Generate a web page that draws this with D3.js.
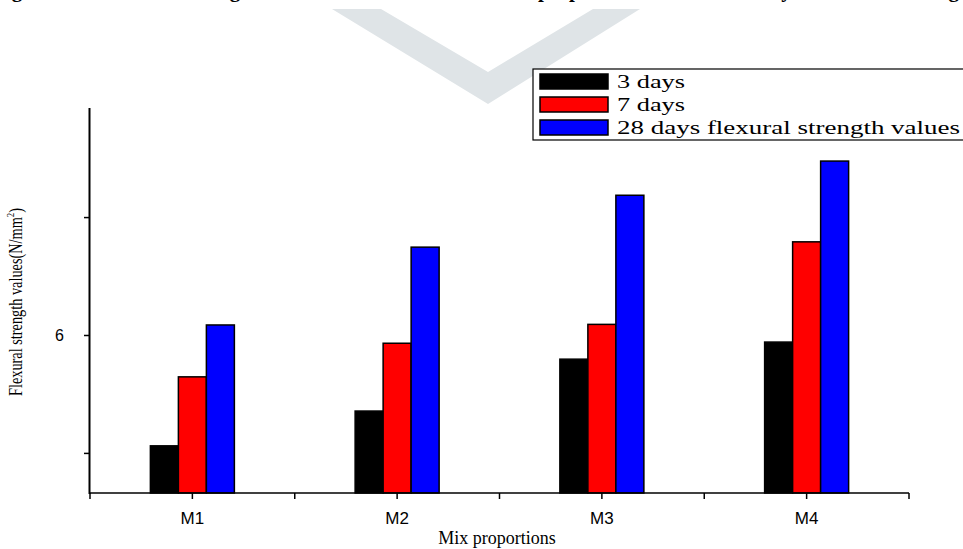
<!DOCTYPE html>
<html>
<head>
<meta charset="utf-8">
<script src="https://cdn.jsdelivr.net/npm/d3@7"></script>
<style>
  html, body { margin: 0; padding: 0; background: #fff; overflow: hidden; }
  svg { display: block; }
</style>
</head>
<body>
<svg id="chart" width="963" height="549"></svg>
<script>
// ---- data ----
const categories = ["M1", "M2", "M3", "M4"];
const seriesNames = ["3 days", "7 days", "28 days flexural strength values"];
const days3 = [4.12, 4.71, 5.59, 5.88];
const days7 = [5.29, 5.86, 6.18, 7.58];
const days28 = [6.17, 7.49, 8.37, 8.95];
const yTicks = [4, 6, 8];
const yTickLabels = ["", "6", ""];
const colors = ["#000000", "#ff0000", "#0000ff"];

const svg = d3.select("#chart");

// watermark chevron (decoration)
svg.append("path")
  .attr("d", "M332,9 L488,104 L640,9 L593,9 L488,72 L381,9 Z")
  .attr("fill", "#dfe4e7");

// title (cut off at top of the picture, only descenders visible)
const titleWords = [
  { t: "Figure 6: Flexural", x: -7, a: "start" },
  { t: "strength", x: 259, a: "end" },
  { t: "values for various mix", x: 268, a: "start" },
  { t: "proportions", x: 538, a: "start" },
  { t: "at 28", x: 700, a: "start" },
  { t: "days", x: 759, a: "start" },
  { t: "of", x: 815, a: "start" },
  { t: "curing", x: 959, a: "end" }
];
svg.selectAll("text.title").data(titleWords).enter().append("text")
  .attr("class", "title")
  .attr("x", d => d.x).attr("y", -3)
  .attr("text-anchor", d => d.a)
  .attr("font-family", "Liberation Serif")
  .attr("font-weight", "bold")
  .attr("font-size", 21)
  .text(d => d.t);

// scales
const x0 = d3.scaleBand().domain(categories).range([90, 909]).padding(0);
const x1 = d3.scaleBand().domain(d3.range(3)).range([0, 84]);
const y = d3.scaleLinear().domain([3.32, 9.85]).range([493, 108]);

const rows = categories.map((c, i) => ({ c, v: [days3[i], days7[i], days28[i]] }));

// bars
const g = svg.append("g");
rows.forEach(r => {
  r.v.forEach((v, k) => {
    g.append("rect")
      .attr("x", x0(r.c) + x0.bandwidth() / 2 - 42 + x1(k))
      .attr("y", y(v))
      .attr("width", x1.bandwidth())
      .attr("height", y(3.32) - y(v))
      .attr("fill", colors[k])
      .attr("stroke", "#000")
      .attr("stroke-width", 1.5);
  });
});

// y axis
const yAxis = d3.axisLeft(y).tickValues(yTicks)
  .tickFormat((d, i) => yTickLabels[i]).tickSize(6).tickPadding(20);
const ga = svg.append("g").attr("transform", "translate(90,0)").call(yAxis);
ga.select(".domain").attr("stroke-width", 2).attr("d", "M-0.5,108V494");
ga.selectAll(".tick line").attr("stroke-width", 1.5);
ga.selectAll(".tick text").attr("font-family", "Liberation Sans").attr("font-size", 16).attr("fill", "#000");

// x axis
const xAxis = d3.axisBottom(x0).tickSize(6).tickPadding(13);
const gx = svg.append("g").attr("transform", "translate(0,493)").call(xAxis);
gx.select(".domain").attr("stroke-width", 1.5).attr("d", "M89,0H909");
gx.selectAll(".tick line").attr("stroke-width", 1.5);
gx.selectAll(".tick text").attr("font-family", "Liberation Sans").attr("font-size", 17).attr("fill", "#000");
// boundary ticks between categories
const bounds = categories.map(c => x0(c)).concat([x0.range()[1]]);
gx.selectAll("line.b").data(bounds).enter().append("line")
  .attr("x1", d => d).attr("x2", d => d).attr("y1", 0).attr("y2", 6)
  .attr("stroke", "#000").attr("stroke-width", 1.5);

// axis titles
svg.append("text")
  .attr("x", 497).attr("y", 544)
  .attr("text-anchor", "middle")
  .attr("font-family", "Liberation Serif")
  .attr("font-size", 18)
  .text("Mix proportions");

const yl = svg.append("text")
  .attr("transform", "translate(22,302) rotate(-90)")
  .attr("text-anchor", "middle")
  .attr("font-family", "Liberation Serif")
  .attr("font-size", 18)
  .attr("textLength", 188)
  .attr("lengthAdjust", "spacingAndGlyphs");
yl.append("tspan").text("Flexural strength values(N/mm");
yl.append("tspan").attr("dy", -8).attr("font-size", 11).text("2");
yl.append("tspan").attr("dy", 8).text(")");

// legend
const lg = svg.append("g");
lg.append("rect").attr("x", 533).attr("y", 69).attr("width", 440).attr("height", 71)
  .attr("fill", "#fff").attr("stroke", "#000").attr("stroke-width", 1.2);
const legendLens = [68, 68, 343];
seriesNames.forEach((n, i) => {
  lg.append("rect").attr("x", 540).attr("y", 74 + i * 23).attr("width", 68).attr("height", 15)
    .attr("fill", colors[i]).attr("stroke", "#000").attr("stroke-width", 1.5);
  lg.append("text").attr("x", 617).attr("y", 88 + i * 23)
    .attr("font-family", "Liberation Serif").attr("font-size", 18)
    .attr("textLength", legendLens[i]).attr("lengthAdjust", "spacingAndGlyphs")
    .text(n);
});
</script>
</body>
</html>
